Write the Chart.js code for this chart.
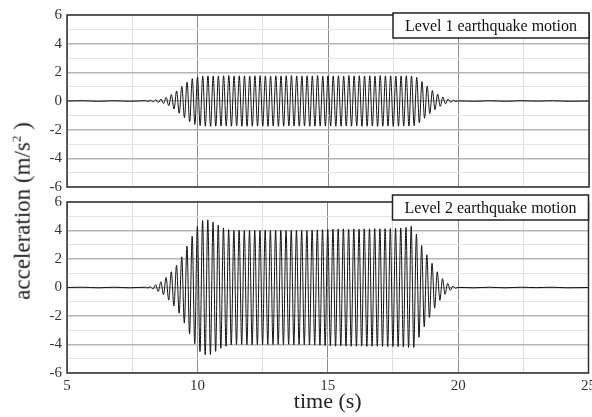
<!DOCTYPE html>
<html>
<head>
<meta charset="utf-8">
<script src="https://cdn.jsdelivr.net/npm/chart.js@4.4.1/dist/chart.umd.min.js"></script>
<style>
  html, body { margin: 0; padding: 0; background: #fff; overflow: hidden; }
  #wrap { position: relative; width: 592px; height: 417px; overflow: hidden; }
  canvas { position: absolute; left: 0; }
  #top-chart { top: 0; }
  #bottom-chart { top: 188px; }
  #y-title {
    position: absolute; left: 22px; top: 211px;
    transform: translate(-50%, -50%) rotate(-90deg);
    font: 23px "Liberation Serif", "DejaVu Serif", serif;
    color: #222; white-space: nowrap;
  }
  #y-title sup { font-size: 13px; }
</style>
</head>
<body>
<div id="wrap">
  <canvas id="top-chart" width="600" height="201"></canvas>
  <canvas id="bottom-chart" width="600" height="229"></canvas>
  <div id="y-title">acceleration (m/s<sup>2</sup> )</div>
</div>
<script>
// time of each sample (s)
const times = [
  5.0, 5.6, 6.2, 6.8, 7.4, 8.0, 8.1,
  8.2, 8.3, 8.4, 8.5, 8.6, 8.7, 8.8, 8.9,
  9.0, 9.1, 9.2, 9.3, 9.4, 9.5, 9.6, 9.7, 9.8, 9.9,
  10.0, 10.1, 10.2, 10.3, 10.4, 10.5, 10.6, 10.7, 10.8, 10.9,
  11.0, 11.1, 11.2, 11.3, 11.4, 11.5, 11.6, 11.7, 11.8, 11.9,
  12.0, 12.1, 12.2, 12.3, 12.4, 12.5, 12.6, 12.7, 12.8, 12.9,
  13.0, 13.1, 13.2, 13.3, 13.4, 13.5, 13.6, 13.7, 13.8, 13.9,
  14.0, 14.1, 14.2, 14.3, 14.4, 14.5, 14.6, 14.7, 14.8, 14.9,
  15.0, 15.1, 15.2, 15.3, 15.4, 15.5, 15.6, 15.7, 15.8, 15.9,
  16.0, 16.1, 16.2, 16.3, 16.4, 16.5, 16.6, 16.7, 16.8, 16.9,
  17.0, 17.1, 17.2, 17.3, 17.4, 17.5, 17.6, 17.7, 17.8, 17.9,
  18.0, 18.1, 18.2, 18.3, 18.4, 18.5, 18.6, 18.7, 18.8, 18.9,
  19.0, 19.1, 19.2, 19.3, 19.4, 19.5, 19.6, 19.7, 19.8, 19.9,
  20.0, 20.6, 21.2, 21.8, 22.4, 23.0, 23.6, 24.2, 25.0
];

// Level 1 earthquake motion, acceleration (m/s2)
const level1 = [
  0, 0.02, -0.02, 0.02, -0.02, 0.02, -0.03,
  0.05, -0.06, 0.08, -0.1, 0.13, -0.18, 0.25, -0.33,
  0.45, -0.56, 0.7, -0.86, 1.02, -1.17, 1.32, -1.45, 1.56, -1.63,
  1.68, -1.72, 1.74, -1.76, 1.76, -1.77, 1.75, -1.76, 1.74, -1.75,
  1.76, -1.75, 1.77, -1.76, 1.75, -1.74, 1.76, -1.77, 1.75, -1.76,
  1.74, -1.76, 1.76, -1.75, 1.77, -1.76, 1.75, -1.77, 1.74, -1.75,
  1.76, -1.77, 1.75, -1.76, 1.76, -1.74, 1.77, -1.75, 1.75, -1.76,
  1.74, -1.75, 1.76, -1.77, 1.75, -1.76, 1.77, -1.75, 1.74, -1.76,
  1.76, -1.75, 1.75, -1.77, 1.76, -1.76, 1.74, -1.75, 1.77, -1.76,
  1.75, -1.74, 1.76, -1.77, 1.75, -1.76, 1.76, -1.75, 1.74, -1.77,
  1.77, -1.76, 1.75, -1.75, 1.76, -1.77, 1.74, -1.76, 1.75, -1.75,
  1.76, -1.75, 1.74, -1.72, 1.65, -1.52, 1.36, -1.2, 1.04, -0.88,
  0.73, -0.6, 0.48, -0.37, 0.28, -0.2, 0.14, -0.09, 0.05, -0.03,
  0.01, -0.02, 0.02, -0.02, 0.02, -0.01, 0.02, -0.02, 0
];

// Level 2 earthquake motion, acceleration (m/s2)
const level2 = [
  0, 0.02, -0.02, 0.02, -0.02, 0.02, -0.03,
  0.05, -0.1, 0.2, -0.28, 0.4, -0.5, 0.7, -0.88,
  1.1, -1.3, 1.55, -1.8, 2.15, -2.5, 2.9, -3.25, 3.6, -3.95,
  4.3, -4.5, 4.7, -4.72, 4.75, -4.7, 4.6, -4.48, 4.38, -4.26,
  4.18, -4.12, 4.06, -4.03, 4.01, -4.0, 4.02, -3.99, 4.0, -4.01,
  4.0, -4.02, 4.01, -4.0, 3.99, -4.01, 4.02, -4.0, 4.0, -4.01,
  4.01, -4.0, 4.02, -4.01, 4.0, -3.99, 4.01, -4.02, 4.0, -4.0,
  4.02, -4.01, 4.0, -4.02, 4.03, -4.04, 4.04, -4.05, 4.06, -4.07,
  4.08, -4.1, 4.1, -4.12, 4.11, -4.1, 4.12, -4.11, 4.1, -4.12,
  4.11, -4.12, 4.1, -4.11, 4.12, -4.13, 4.11, -4.12, 4.13, -4.12,
  4.12, -4.14, 4.13, -4.15, 4.14, -4.15, 4.16, -4.16, 4.18, -4.18,
  4.22, -4.2, 4.3, -4.2, 3.75, -3.5, 2.95, -2.75, 2.3, -2.1,
  1.7, -1.45, 1.1, -0.9, 0.62, -0.48, 0.3, -0.2, 0.1, -0.05,
  0.01, -0.02, 0.02, -0.02, 0.02, -0.01, 0.02, -0.02, 0
];

const xTicks = [5, 10, 15, 20, 25];
const yTicks = [-6, -4, -2, 0, 2, 4, 6];

const serif = '"Liberation Serif", "DejaVu Serif", serif';

const framePlugin = {
    id: 'frame',
    afterDraw(chart) {
        const { ctx, chartArea: a } = chart;
        ctx.save();
        ctx.strokeStyle = '#333';
        ctx.lineWidth = 1.5;
        ctx.strokeRect(a.left, a.top, a.right - a.left, a.bottom - a.top);
        ctx.restore();
    }
};

const levelBoxPlugin = {
    id: 'levelBox',
    afterDraw(chart, args, opts) {
        const { ctx, chartArea: a } = chart;
        const w = 196, h = 25;
        const x = a.right - w;
        const y = a.top + opts.dy;
        ctx.save();
        ctx.fillStyle = '#fff';
        ctx.fillRect(x, y, w, h);
        ctx.strokeStyle = '#222';
        ctx.lineWidth = 1.5;
        ctx.strokeRect(x, y, w, h);
        ctx.font = '16px ' + serif;
        ctx.fillStyle = '#111';
        ctx.textAlign = 'center';
        ctx.textBaseline = 'middle';
        ctx.fillText(opts.text, x + w / 2, y + h / 2 + 1);
        ctx.restore();
    }
};

function makeChart(id, values, boxText, boxDy, showX, pad) {
    const ctx = document.getElementById(id).getContext('2d');
    return new Chart(ctx, {
        type: 'line',
        data: {
            datasets: [{
                data: times.map((t, i) => ({ x: t, y: values[i] })),
                borderColor: '#111',
                borderWidth: 1,
                pointRadius: 0,
                cubicInterpolationMode: 'monotone',
                fill: false
            }]
        },
        options: {
            responsive: false,
            animation: false,
            layout: { padding: pad },
            plugins: {
                legend: { display: false },
                tooltip: { enabled: false },
                levelBox: { text: boxText, dy: boxDy }
            },
            scales: {
                x: {
                    type: 'linear',
                    min: 5,
                    max: 25,
                    afterFit: s => { s.height = showX ? 44 : 0; },
                    border: { display: false },
                    grid: {
                        drawTicks: false,
                        color: c => xTicks.includes(c.tick.value) ? '#8c8c8c' : '#dedede',
                        lineWidth: 1
                    },
                    ticks: {
                        display: showX,
                        stepSize: 2.5,
                        autoSkip: false,
                        maxRotation: 0,
                        padding: 4,
                        color: '#333',
                        font: { family: serif, size: 15 },
                        callback: v => xTicks.includes(v) ? v : ''
                    },
                    title: {
                        display: showX,
                        text: 'time (s)',
                        color: '#222',
                        font: { family: serif, size: 22 },
                        padding: { top: 0, bottom: 2 }
                    }
                },
                y: {
                    min: -6,
                    max: 6,
                    afterFit: s => { s.width = 67; },
                    border: { display: false },
                    grid: {
                        drawTicks: false,
                        color: c => yTicks.includes(c.tick.value) ? '#b4b4b4' : '#e4e4e4',
                        lineWidth: c => yTicks.includes(c.tick.value) ? 1.5 : 1
                    },
                    ticks: {
                        stepSize: 1,
                        autoSkip: false,
                        padding: 5,
                        color: '#333',
                        font: { family: serif, size: 15 },
                        callback: v => yTicks.includes(v) ? v : ''
                    }
                }
            }
        },
        plugins: [framePlugin, levelBoxPlugin]
    });
}

makeChart('top-chart', level1, 'Level 1 earthquake motion', -2, false,
    { top: 15, right: 11, bottom: 8, left: 0 });
makeChart('bottom-chart', level2, 'Level 2 earthquake motion', -7, true,
    { top: 10, right: 11, bottom: 0, left: 0 });
</script>
</body>
</html>
